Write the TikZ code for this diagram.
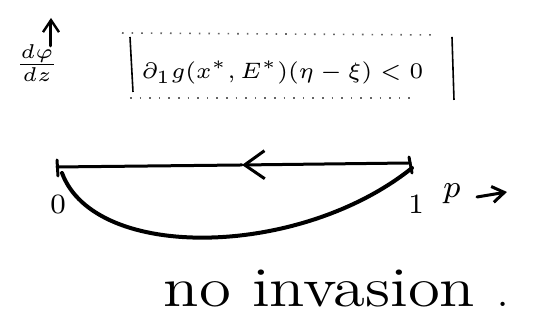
\documentclass[tikz,border=0pt]{standalone}
\usepackage{amsmath,amssymb}
\usepackage{graphicx}
\usetikzlibrary{arrows.meta}

\begin{document}
\begin{tikzpicture}[x=0.25pt,y=-0.25pt,
    pen/.style={line width=0.75pt,line cap=round},
    barb/.style={-{Straight Barb[length=5pt,width=7pt,line width=0.75pt]}},
    boxside/.style={line width=0.4pt},
    boxdots/.style={line width=0.4pt,dotted,black!60}]
  \useasboundingbox (0,0) rectangle (548,327);
  % Achse nach oben mit Beschriftung
  \coordinate (up0) at (51,46);
  \coordinate (up1) at (51,18);
  \draw[pen,-{Straight Barb[length=3pt,width=4pt,line width=0.6pt]}] (up0) -- (up1);
  \node (dphi) at (37,63) {\fontsize{7}{8}\selectfont$\frac{d\varphi}{dz}$};
  % Kasten mit der Bedingung
  \coordinate (bl) at (130,98);
  \coordinate (tl) at (122,33);
  \coordinate (tr) at (437,35);
  \coordinate (br) at (410,98);
  \draw[boxdots] (tl) -- (tr);
  \draw[boxdots] (bl) -- (br);
  \draw[boxside] (130,37) -- (133,92);
  \draw[boxside] (452,37) -- (454,100);
  \node[anchor=base west,inner sep=0pt] (cond) at (141,79) {\scalebox{0.93}{\fontsize{6}{7}\selectfont$\partial_1 g(x^*,E^*)(\eta-\xi)<0$}};
  % Strecke von 0 bis 1 mit Pfeil nach links
  \coordinate (L) at (57,167);
  \coordinate (R) at (410,163);
  \coordinate (M) at (242,165);
  \draw[pen,barb] (R) -- (M);
  \draw[pen] (M) -- (L);
  \draw[pen] (57,160) -- (58,176);
  \draw[pen] (409,157) -- (412,173);
  % Bogen darunter
  \draw[line width=1pt,line cap=round] (62,173) .. controls (95,262) and (300,258) .. (412,168);
  % Achsenbeschriftung p
  \node (zero) at (58,204) {\fontsize{7}{8}\selectfont$0$};
  \node (one) at (416,204) {\fontsize{7}{8}\selectfont$1$};
  \node (p) at (452,194) {\fontsize{8}{9}\selectfont$p$};
  \coordinate (pstart) at (477,197);
  \coordinate (pend) at (507,192);
  \draw[pen,-{Straight Barb[length=3pt,width=4pt,line width=0.75pt]}] (pstart) -- (pend);
  % Ergebnis
  \node[anchor=base west,inner sep=0pt] (res) at (163,307) {\scalebox{1.16}[1]{\fontsize{14}{17}\selectfont no invasion}\hspace{5.5pt}.};
\end{tikzpicture}
\end{document}
